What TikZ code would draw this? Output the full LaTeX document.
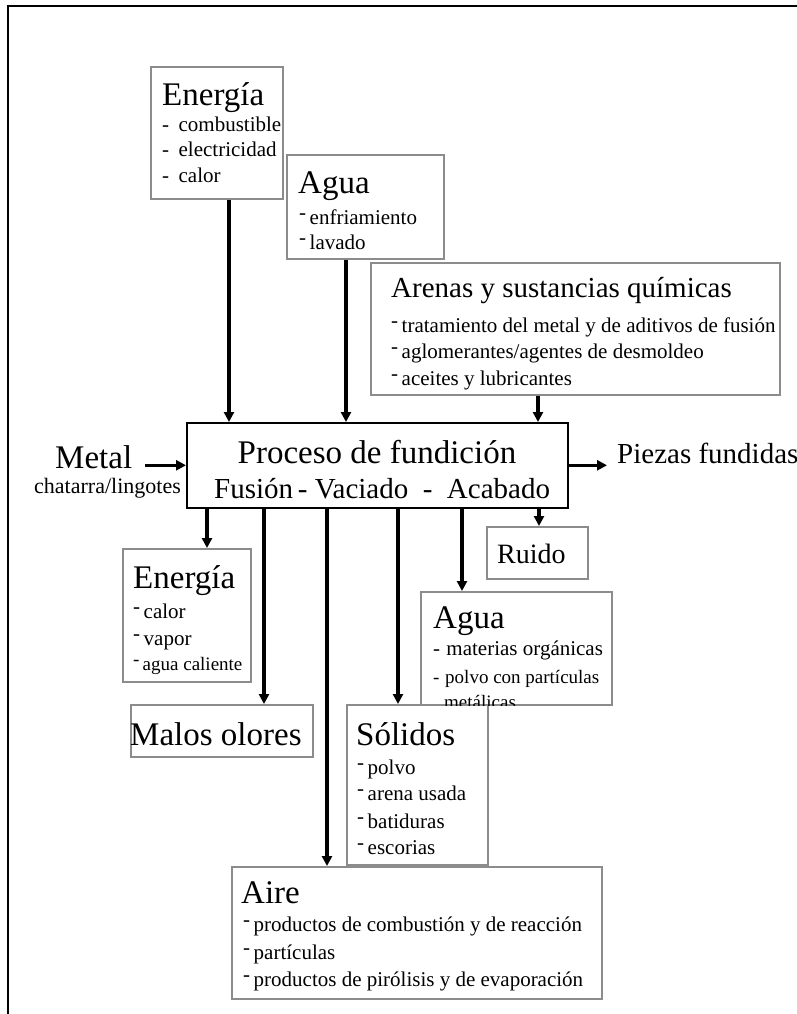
\documentclass[tikz,border=0pt]{standalone}
\usepackage{fontspec}
\setmainfont{Liberation Serif}
\usetikzlibrary{arrows.meta, positioning, calc}
\newcommand{\rdash}{\raisebox{0.22em}{-}\,}

\begin{document}
\begin{tikzpicture}[
        x=1pt, y=-1pt,
        box/.style={draw=black!45, line width=1.6pt, fill=white, anchor=north west, inner sep=0pt},
        procbox/.style={draw, line width=1.6pt, fill=white, anchor=north west, inner sep=0pt},
        flow/.style={-{Triangle[length=10pt,width=10pt]}, line width=3.2pt},
        txt/.style={inner sep=0pt, anchor=base west},
        head/.style={txt, font=\fontsize{33}{36}\selectfont},
        item/.style={txt, font=\fontsize{21}{24}\selectfont},
        itemsm/.style={txt, font=\fontsize{19}{22}\selectfont}
    ]
    \useasboundingbox (0,0) rectangle (797,1014);
    \draw[line width=2.2pt] (797,6) -- (8,6) -- (8,1014);

    % inputs
    \node[box, minimum width=132pt, minimum height=132pt] (enerIn) at (150,66) {};
    \node[box, minimum width=157pt, minimum height=104pt] (aguaIn) at (286,154) {};
    \node[box, minimum width=409pt, minimum height=132pt] (arenas) at (370,262) {};
    \node[procbox, minimum width=381pt, minimum height=85pt] (proc) at (186,422) {};

    % outputs
    \node[box, minimum width=128pt, minimum height=133pt] (enerOut) at (122,548) {};
    \node[box, minimum width=182pt, minimum height=52pt] (olores) at (130,704) {};
    \node[box, minimum width=101pt, minimum height=52pt] (ruido) at (486,526) {};
    \node[box, minimum width=191pt, minimum height=113pt] (aguaOut) at (420,591) {};
    \node[box, minimum width=141pt, minimum height=160pt] (solidos) at (346,704) {};
    \node[box, minimum width=370pt, minimum height=132pt] (aire) at (231,866) {};

    % texts
    \node[head] (enerInT) at (162,106) {Energía};
    \foreach \t [count=\i] in {combustible, electricidad, calor}
        \node[item] (enerIn-\i) at (162,106+25.5*\i) {-\hspace{0.45em}\t};
    \node[head] (aguaInT) at (298,193) {Agua};
    \foreach \t [count=\i] in {enfriamiento, lavado}
        \node[item] (aguaIn-\i) at (299,199+25*\i) {\rdash\t};
    \node[txt, font=\fontsize{29}{32}\selectfont] (arenasT) at (391,297) {Arenas y sustancias químicas};
    \foreach \t [count=\i] in {tratamiento del metal y de aditivos de fusión,
            aglomerantes/agentes de desmoldeo, aceites y lubricantes}
        \node[item] (arenas-\i) at (391,305.5+26.5*\i) {\rdash\t};

    \node[font=\fontsize{33}{36}\selectfont, inner sep=0pt, anchor=base] (procT) at (377,463) {Proceso de fundición};
    \node[txt, font=\fontsize{29}{32}\selectfont] (etapas) at (214,498) {Fusión\,-\ Vaciado\ \ -\ \ Acabado};
    \node[head] (metal) at (55,468) {Metal};
    \node[txt, font=\fontsize{22}{24}\selectfont] (chatarra) at (34,493) {chatarra/lingotes};
    \node[txt, font=\fontsize{29}{32}\selectfont] (piezas) at (617,463) {Piezas fundidas};

    \node[head] (enerOutT) at (133,588) {Energía};
    \node[item] (enerOut-1) at (133,618) {\rdash calor};
    \node[item] (enerOut-2) at (133,645) {\rdash vapor};
    \node[itemsm] (enerOut-3) at (133,670) {\rdash agua caliente};
    \node[head] (oloresT) at (130,745) {Malos olores};
    \node[txt, font=\fontsize{28}{30}\selectfont] (ruidoT) at (497,563) {Ruido};
    \begin{scope}
        \clip (aguaOut.north west) rectangle (aguaOut.south east);
        \node[head] (aguaOutT) at (433,628) {Agua};
        \node[item] (aguaOut-1) at (433,655) {-\hspace{0.3em}materias orgánicas};
        \node[itemsm] (aguaOut-2) at (433,683) {-\hspace{0.3em}polvo con partículas};
        \node[itemsm] (aguaOut-3) at (444,708) {metálicas};
    \end{scope}
    \node[head] (solidosT) at (356,745) {Sólidos};
    \foreach \t/\y [count=\i] in {polvo/774, arena usada/800, batiduras/828, escorias/854}
        \node[item] (solidos-\i) at (357,\y) {\rdash\t};
    \node[head] (aireT) at (241,903) {Aire};
    \foreach \t/\y [count=\i] in {productos de combustión y de reacción/931, partículas/959,
            productos de pirólisis y de evaporación/986}
        \node[item] (aire-\i) at (243,\y) {\rdash\t};

    % flows in
    \draw[flow] (enerIn.south -| 229,0) -- (proc.north -| 229,0);
    \draw[flow] (aguaIn.south -| 346,0) -- (proc.north -| 346,0);
    \draw[flow] (arenas.south -| 538,0) -- (proc.north -| 538,0);
    \draw[flow, shorten <=13pt] (proc.west -| metal.east) -- (proc.west);
    \draw[flow, shorten >=10pt] (proc.east) -- (proc.east -| piezas.west);

    % flows out
    \draw[flow] (proc.south -| 207,0) -- (enerOut.north -| 207,0);
    \draw[flow] (proc.south -| 264,0) -- (olores.north -| 264,0);
    \draw[flow] (proc.south -| 327,0) -- (aire.north -| 327,0);
    \draw[flow] (proc.south -| 398,0) -- (solidos.north -| 398,0);
    \draw[flow] (proc.south -| 462,0) -- (aguaOut.north -| 462,0);
    \draw[flow] (proc.south -| 539,0) -- (ruido.north -| 539,0);
\end{tikzpicture}
\end{document}
